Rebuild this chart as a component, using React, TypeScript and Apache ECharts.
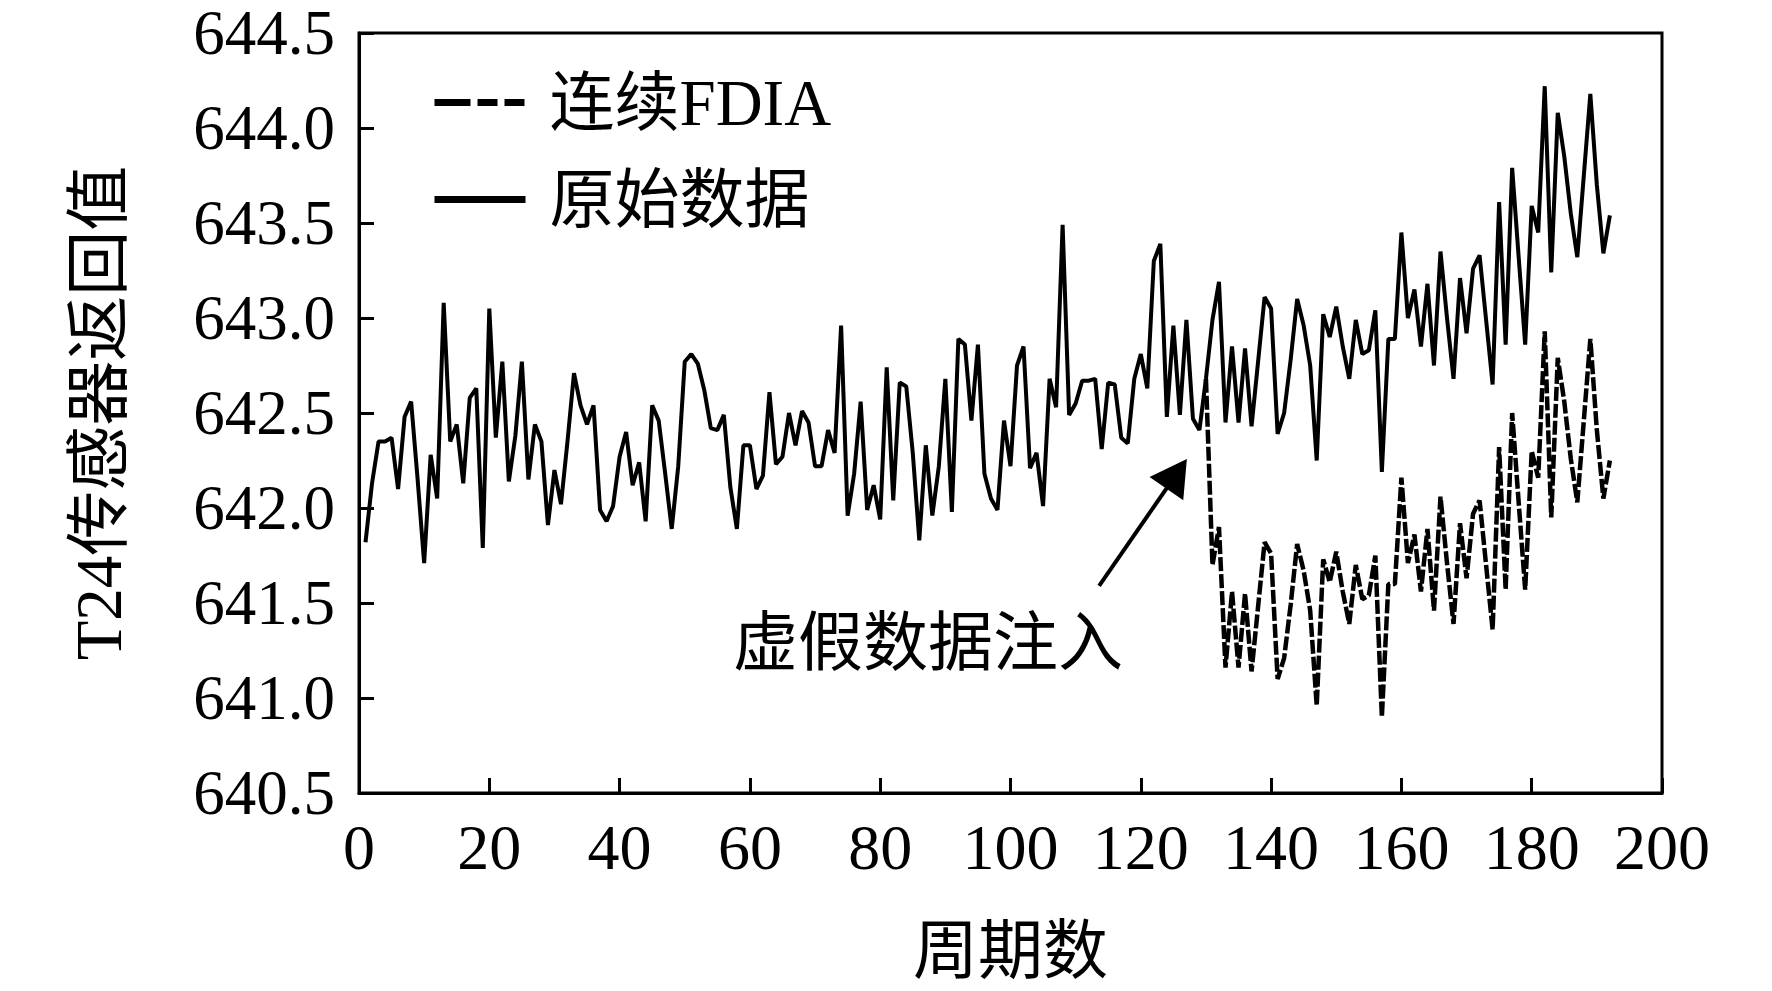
import { useEffect, useRef } from 'react';
import * as echarts from 'echarts';

// 原始数据, cycles 1..192
const originalValues = [
  641.82, 642.13, 642.35, 642.35, 642.37, 642.1, 642.48, 642.56, 642.15, 641.71,
  642.28, 642.05, 643.08, 642.35, 642.44, 642.13, 642.58, 642.63, 641.79, 643.05,
  642.37, 642.77, 642.14, 642.38, 642.77, 642.15, 642.44, 642.35, 641.91, 642.2,
  642.02, 642.35, 642.71, 642.54, 642.44, 642.54, 641.99, 641.93, 642.01, 642.27,
  642.4, 642.12, 642.24, 641.93, 642.54, 642.46, 642.18, 641.89, 642.22, 642.77,
  642.81, 642.76, 642.62, 642.42, 642.41, 642.49, 642.11, 641.89, 642.33, 642.33,
  642.1, 642.17, 642.61, 642.23, 642.27, 642.5, 642.33, 642.51, 642.45, 642.22,
  642.22, 642.41, 642.29, 642.96, 641.96, 642.18, 642.56, 641.99, 642.12, 641.94,
  642.74, 642.04, 642.66, 642.64, 642.29, 641.83, 642.33, 641.96, 642.22, 642.68,
  641.98, 642.89, 642.86, 642.46, 642.86, 642.18, 642.05, 641.99, 642.46, 642.22,
  642.75, 642.85, 642.21, 642.29, 642.01, 642.68, 642.53, 643.49, 642.49, 642.55,
  642.67, 642.67, 642.68, 642.31, 642.66, 642.65, 642.37, 642.34, 642.68, 642.81,
  642.63, 643.3, 643.39, 642.48, 642.96, 642.49, 642.99, 642.47, 642.41, 642.68,
  642.99, 643.19, 642.45, 642.85, 642.45, 642.84, 642.43, 642.77, 643.11, 643.05,
  642.39, 642.5, 642.78, 643.1, 642.96, 642.75, 642.25, 643.02, 642.9, 643.06,
  642.85, 642.68, 642.99, 642.81, 642.83, 643.04, 642.19, 642.89, 642.89, 643.45,
  643.0, 643.15, 642.85, 643.18, 642.75, 643.35, 643.0, 642.68, 643.21, 642.92,
  643.26, 643.33, 642.99, 642.65, 643.61, 642.86, 643.79, 643.32, 642.86, 643.59,
  643.45, 644.22, 643.24, 644.08, 643.85, 643.55, 643.32, 643.75, 644.18, 643.7,
  643.34, 643.54,
];
const originalStart = 1;

// 连续FDIA, cycles 130..192
const fdiaValues = [
  642.68, 641.7, 641.9, 641.16, 641.56, 641.16, 641.55, 641.14, 641.48, 641.82,
  641.76, 641.1, 641.21, 641.49, 641.81, 641.67, 641.46, 640.96, 641.73, 641.61,
  641.77, 641.56, 641.39, 641.7, 641.52, 641.54, 641.75, 640.9, 641.6, 641.6,
  642.16, 641.71, 641.86, 641.56, 641.89, 641.46, 642.06, 641.71, 641.39, 641.92,
  641.63, 641.97, 642.04, 641.7, 641.36, 642.32, 641.57, 642.5, 642.03, 641.57,
  642.3, 642.16, 642.93, 641.95, 642.79, 642.56, 642.26, 642.03, 642.46, 642.89,
  642.41, 642.05, 642.25,
];
const fdiaStart = 130;

const legendNames = ['连续FDIA', '原始数据'];
const arrowFrom = [113.6, 641.59];
const arrowTo = [125.5, 642.18];
const annotationText = '虚假数据注入';

const serif = "'Liberation Serif', 'Noto Sans CJK SC', serif";

function toPairs(values: number[], start: number) {
  return values.map((v, i) => [start + i, v]);
}

export default function App() {
  const ref = useRef<HTMLDivElement>(null);

  useEffect(() => {
    if (!ref.current) return;
    const chart = echarts.init(ref.current, null, { renderer: 'svg' });

    const axisLine = { show: true, lineStyle: { color: '#000', width: 3 } };
    const axisTick = { show: true, inside: true, length: 15, lineStyle: { color: '#000', width: 3 } };
    const hiddenSymbol = { opacity: 0, borderWidth: 0 };

    chart.setOption({
      animation: false,
      backgroundColor: '#fff',
      textStyle: { fontFamily: serif, color: '#000' },
      grid: {
        left: 359,
        right: 110,
        top: 33,
        bottom: 198,
        show: true,
        borderColor: '#000',
        borderWidth: 3,
        backgroundColor: 'transparent',
      },
      legend: {
        orient: 'vertical',
        left: 426,
        top: 65,
        itemWidth: 91,
        itemHeight: 20,
        itemGap: 32,
        selectedMode: false,
        textStyle: { fontSize: 65, fontFamily: serif, color: '#000', lineHeight: 62, padding: [0, 0, 0, 19] },
        data: [
          { name: legendNames[0], itemStyle: hiddenSymbol, lineStyle: { width: 7, type: [36, 7, 20, 7, 20, 7] } },
          { name: legendNames[1], itemStyle: hiddenSymbol, lineStyle: { width: 7 } },
        ],
      },
      xAxis: {
        type: 'value',
        min: 0,
        max: 200,
        interval: 20,
        name: '周期数',
        nameLocation: 'middle',
        nameGap: 125,
        nameTextStyle: { fontSize: 65, fontFamily: serif, color: '#000' },
        axisLine,
        axisTick,
        splitLine: { show: false },
        axisLabel: { fontSize: 64, fontFamily: serif, color: '#000', margin: 22 },
      },
      yAxis: {
        type: 'value',
        min: 640.5,
        max: 644.5,
        interval: 0.5,
        name: 'T24传感器返回值',
        nameLocation: 'middle',
        nameGap: 228,
        nameTextStyle: { fontSize: 65, fontFamily: serif, color: '#000' },
        axisLine,
        axisTick,
        splitLine: { show: false },
        axisLabel: {
          fontSize: 63,
          lineHeight: 50,
          fontFamily: serif,
          color: '#000',
          margin: 24,
          formatter: (v: number) => v.toFixed(1),
        },
      },
      graphic: [
        {
          type: 'text',
          left: 733,
          top: 610,
          style: { text: annotationText, fontSize: 65, fontFamily: serif, fill: '#000' },
        },
      ],
      series: [
        {
          type: 'line',
          name: legendNames[0],
          data: toPairs(fdiaValues, fdiaStart),
          symbol: 'none',
          lineStyle: { color: '#000', width: 4.5, type: [14, 3] },
          itemStyle: { color: '#000' },
          z: 2,
        },
        {
          type: 'line',
          name: legendNames[1],
          data: toPairs(originalValues, originalStart),
          symbol: 'none',
          lineStyle: { color: '#000', width: 4 },
          itemStyle: { color: '#000' },
          z: 3,
          markLine: {
            silent: true,
            animation: false,
            symbol: ['none', 'triangle'],
            symbolSize: [41, 36],
            label: { show: false },
            emphasis: { disabled: true },
            lineStyle: { color: '#000', width: 4, type: 'solid' },
            data: [[{ coord: arrowFrom }, { coord: arrowTo }]],
          },
        },
      ],
    });

    return () => chart.dispose();
  }, []);

  return <div ref={ref} style={{ position: 'fixed', left: 0, top: 0, width: 1772, height: 991 }} />;
}
